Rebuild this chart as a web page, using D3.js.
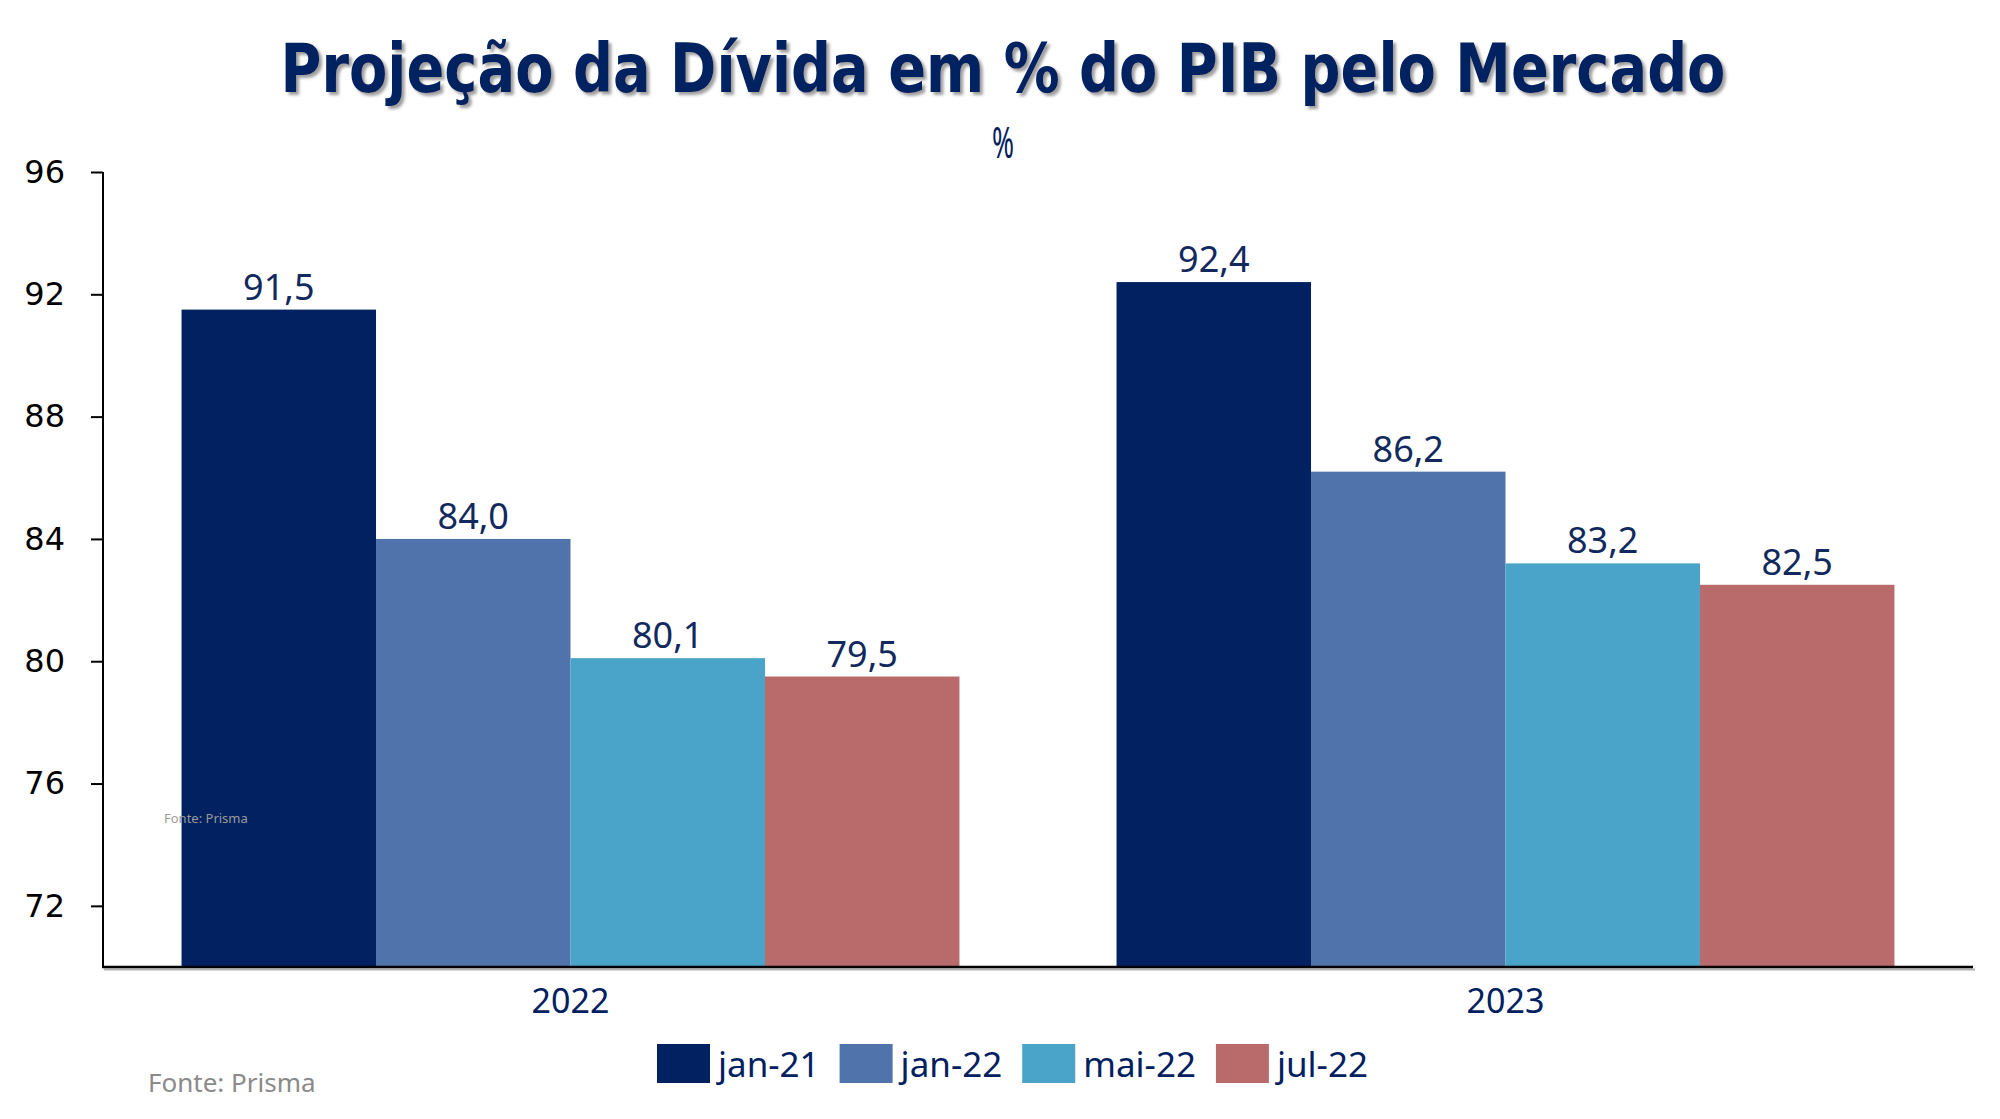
<!DOCTYPE html>
<html><head><meta charset="utf-8">
<script src="https://cdn.jsdelivr.net/npm/d3@7"></script>
<style>html,body{margin:0;padding:0;background:#fff;}svg{display:block;}</style>
</head><body>
<script>
const years = ["2022", "2023"];
const seriesNames = ["jan-21", "jan-22", "mai-22", "jul-22"];
const values2022 = [91.5, 84.0, 80.1, 79.5];
const values2023 = [92.4, 86.2, 83.2, 82.5];
const seriesColors = ["#022160", "#4f73aa", "#4aa3c8", "#b96b6b"];
const yTicks = [72, 76, 80, 84, 88, 92, 96];
const titleText = "Projeção da Dívida em % do PIB pelo Mercado";
const unitText = "%";
const sourceText = "Fonte: Prisma";

const W = 2000, H = 1119;
const navy = "#002060";
const table = years.map((y, i) => ({year: y, vals: [values2022, values2023][i]}));

const svg = d3.select("body").append("svg").attr("width", W).attr("height", H);
const defs = svg.append("defs");
const f = defs.append("filter").attr("id", "sh").attr("x", "-5%").attr("y", "-20%").attr("width", "110%").attr("height", "150%");
f.append("feDropShadow").attr("dx", 3).attr("dy", 3).attr("stdDeviation", 1.5).attr("flood-color", "#7f7f7f").attr("flood-opacity", 0.75);

const x0 = d3.scaleBand().domain(years).range([103, 1973]).paddingInner(0.168).paddingOuter(0.084);
const x1 = d3.scaleBand().domain(seriesNames).range([0, x0.bandwidth()]);
const y = d3.scaleLinear().domain([70, 96]).range([967, 172]);

// title
svg.append("text").attr("x", 1003).attr("y", 92).attr("text-anchor", "middle")
  .attr("font-family", "'DejaVu Sans Condensed','DejaVu Sans',sans-serif").attr("font-weight", "bold")
  .attr("font-size", 68).attr("fill", navy).attr("filter", "url(#sh)")
  .attr("textLength", 1445).attr("lengthAdjust", "spacingAndGlyphs").text(titleText);

svg.append("text").attr("x", 1003).attr("y", 158).attr("text-anchor", "middle")
  .attr("font-family", "'Noto Sans',sans-serif").attr("font-size", 44).attr("fill", navy)
  .attr("textLength", 22).attr("lengthAdjust", "spacingAndGlyphs").text(unitText);

// bars
const g = svg.append("g");
const groups = g.selectAll("g.grp").data(table).join("g").attr("class", "grp")
  .attr("transform", d => `translate(${x0(d.year)},0)`);
groups.selectAll("rect").data(d => d.vals.map((v, i) => ({v, s: seriesNames[i], i})))
  .join("rect").attr("x", d => x1(d.s)).attr("width", x1.bandwidth())
  .attr("y", d => y(d.v)).attr("height", d => y(70) - y(d.v)).attr("fill", d => seriesColors[d.i]);
groups.selectAll("text.lbl").data(d => d.vals.map((v, i) => ({v, s: seriesNames[i], i})))
  .join("text").attr("class", "lbl").attr("x", d => x1(d.s) + x1.bandwidth() / 2).attr("y", d => y(d.v) - 10)
  .attr("text-anchor", "middle").attr("font-family", "'Noto Sans',sans-serif").attr("font-size", 36)
  .attr("fill", "#12295e").text(d => d3.format(".1f")(d.v).replace(".", ","));

// small source text inside plot
svg.append("text").attr("x", 164).attr("y", 823).attr("font-family", "'Noto Sans',sans-serif")
  .attr("font-size", 13).attr("fill", "#9a9a9a").text(sourceText);

// y axis
const yAxis = svg.append("g").attr("transform", "translate(103,0)")
  .call(d3.axisLeft(y).tickValues(yTicks).tickSize(12).tickPadding(26).tickFormat(d3.format("d")));
yAxis.select(".domain").attr("d", `M0,${y(96)}H0V${y(70)}`).attr("stroke", "#000").attr("stroke-width", 2);
yAxis.selectAll(".tick line").attr("stroke", "#000").attr("stroke-width", 2);
yAxis.selectAll(".tick text").attr("font-family", "'DejaVu Sans',sans-serif").attr("font-size", 32).attr("fill", "#000");

// x axis shadow + line
svg.append("line").attr("x1", 104).attr("x2", 1975).attr("y1", y(70) + 2.5).attr("y2", y(70) + 2.5)
  .attr("stroke", "#b0b0b0").attr("stroke-width", 2);
const xAxis = svg.append("g").attr("transform", `translate(0,${y(70)})`)
  .call(d3.axisBottom(x0).tickSize(0).tickPadding(22));
xAxis.select(".domain").attr("stroke", "#000").attr("stroke-width", 2.5).attr("d", `M102,0H1973`);
xAxis.selectAll(".tick text").attr("font-family", "'Noto Sans',sans-serif").attr("font-size", 34)
  .attr("fill", navy).attr("dy", "0.71em");

// legend
const leg = svg.append("g");
let lx = 657;
seriesNames.forEach((s, i) => {
  leg.append("rect").attr("x", lx).attr("y", 1044).attr("width", 53).attr("height", 39).attr("fill", seriesColors[i]);
  const t = leg.append("text").attr("x", lx + 61).attr("y", 1077).attr("font-family", "'Noto Sans',sans-serif")
    .attr("font-size", 35).attr("fill", navy).text(s);
  lx += 61 + t.node().getComputedTextLength() + 20;
});

// bottom source
svg.append("text").attr("x", 148).attr("y", 1092).attr("font-family", "'Noto Sans',sans-serif")
  .attr("font-size", 26).attr("fill", "#8a8a8a").text(sourceText);
</script>
</body></html>
